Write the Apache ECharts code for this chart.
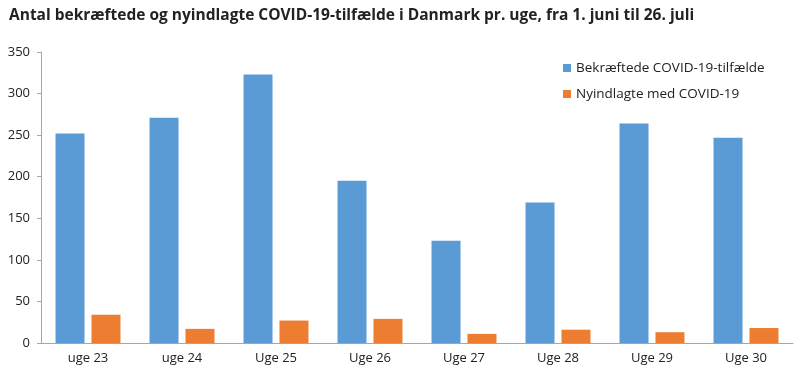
<!DOCTYPE html>
<html>
<head>
<meta charset="utf-8">
<script src="https://cdn.jsdelivr.net/npm/echarts@6/dist/echarts.min.js"></script>
<style>
  html, body { margin: 0; padding: 0; background: #fff; }
  #chart { width: 800px; height: 376px; }
</style>
</head>
<body>
<div id="chart"></div>
<script>
// uger og tal
var weeks = ["uge 23", "uge 24", "Uge 25", "Uge 26", "Uge 27", "Uge 28", "Uge 29", "Uge 30"];
var confirmed = [252, 271, 323, 195, 123, 169, 264, 247];
var hospitalized = [34, 17, 27, 29, 11, 16, 13, 18];

var font = "Open Sans";
var chart = echarts.init(document.getElementById("chart"));

var option = {
  animation: false,
  title: {
    text: "Antal bekræftede og nyindlagte COVID-19-tilfælde i Danmark pr. uge, fra 1. juni til 26. juli",
    left: 4,
    top: 3,
    textStyle: { fontFamily: font, fontSize: 15.5, fontWeight: "bold", color: "#222" }
  },
  legend: {
    orient: "vertical",
    left: 558,
    top: 56,
    itemWidth: 8,
    itemHeight: 8,
    itemGap: 12,
    icon: "rect",
    textStyle: { fontFamily: font, fontSize: 13.5, color: "#222" },
    data: ["Bekræftede COVID-19-tilfælde", "Nyindlagte med COVID-19"]
  },
  grid: { left: 41, right: 7, top: 52, bottom: 33 },
  xAxis: {
    type: "category",
    data: weeks,
    axisLine: { lineStyle: { color: "#a6a6a6" } },
    axisTick: { length: 5, lineStyle: { color: "#a6a6a6" } },
    axisLabel: { fontFamily: font, fontSize: 13, color: "#222", margin: 9 }
  },
  yAxis: {
    type: "value",
    min: 0,
    max: 350,
    interval: 50,
    splitLine: { show: false },
    axisLine: { show: true, lineStyle: { color: "#a6a6a6" } },
    axisTick: { show: true, length: 4, lineStyle: { color: "#a6a6a6" } },
    axisLabel: { fontFamily: font, fontSize: 13, color: "#222", margin: 11 }
  },
  series: [
    {
      name: "Bekræftede COVID-19-tilfælde",
      type: "bar",
      data: confirmed,
      barWidth: 29,
      barGap: "24%",
      itemStyle: { color: "#5b9bd5" }
    },
    {
      name: "Nyindlagte med COVID-19",
      type: "bar",
      data: hospitalized,
      barWidth: 29,
      barGap: "24%",
      itemStyle: { color: "#ed7d31" }
    }
  ]
};

chart.setOption(option);
</script>
</body>
</html>
